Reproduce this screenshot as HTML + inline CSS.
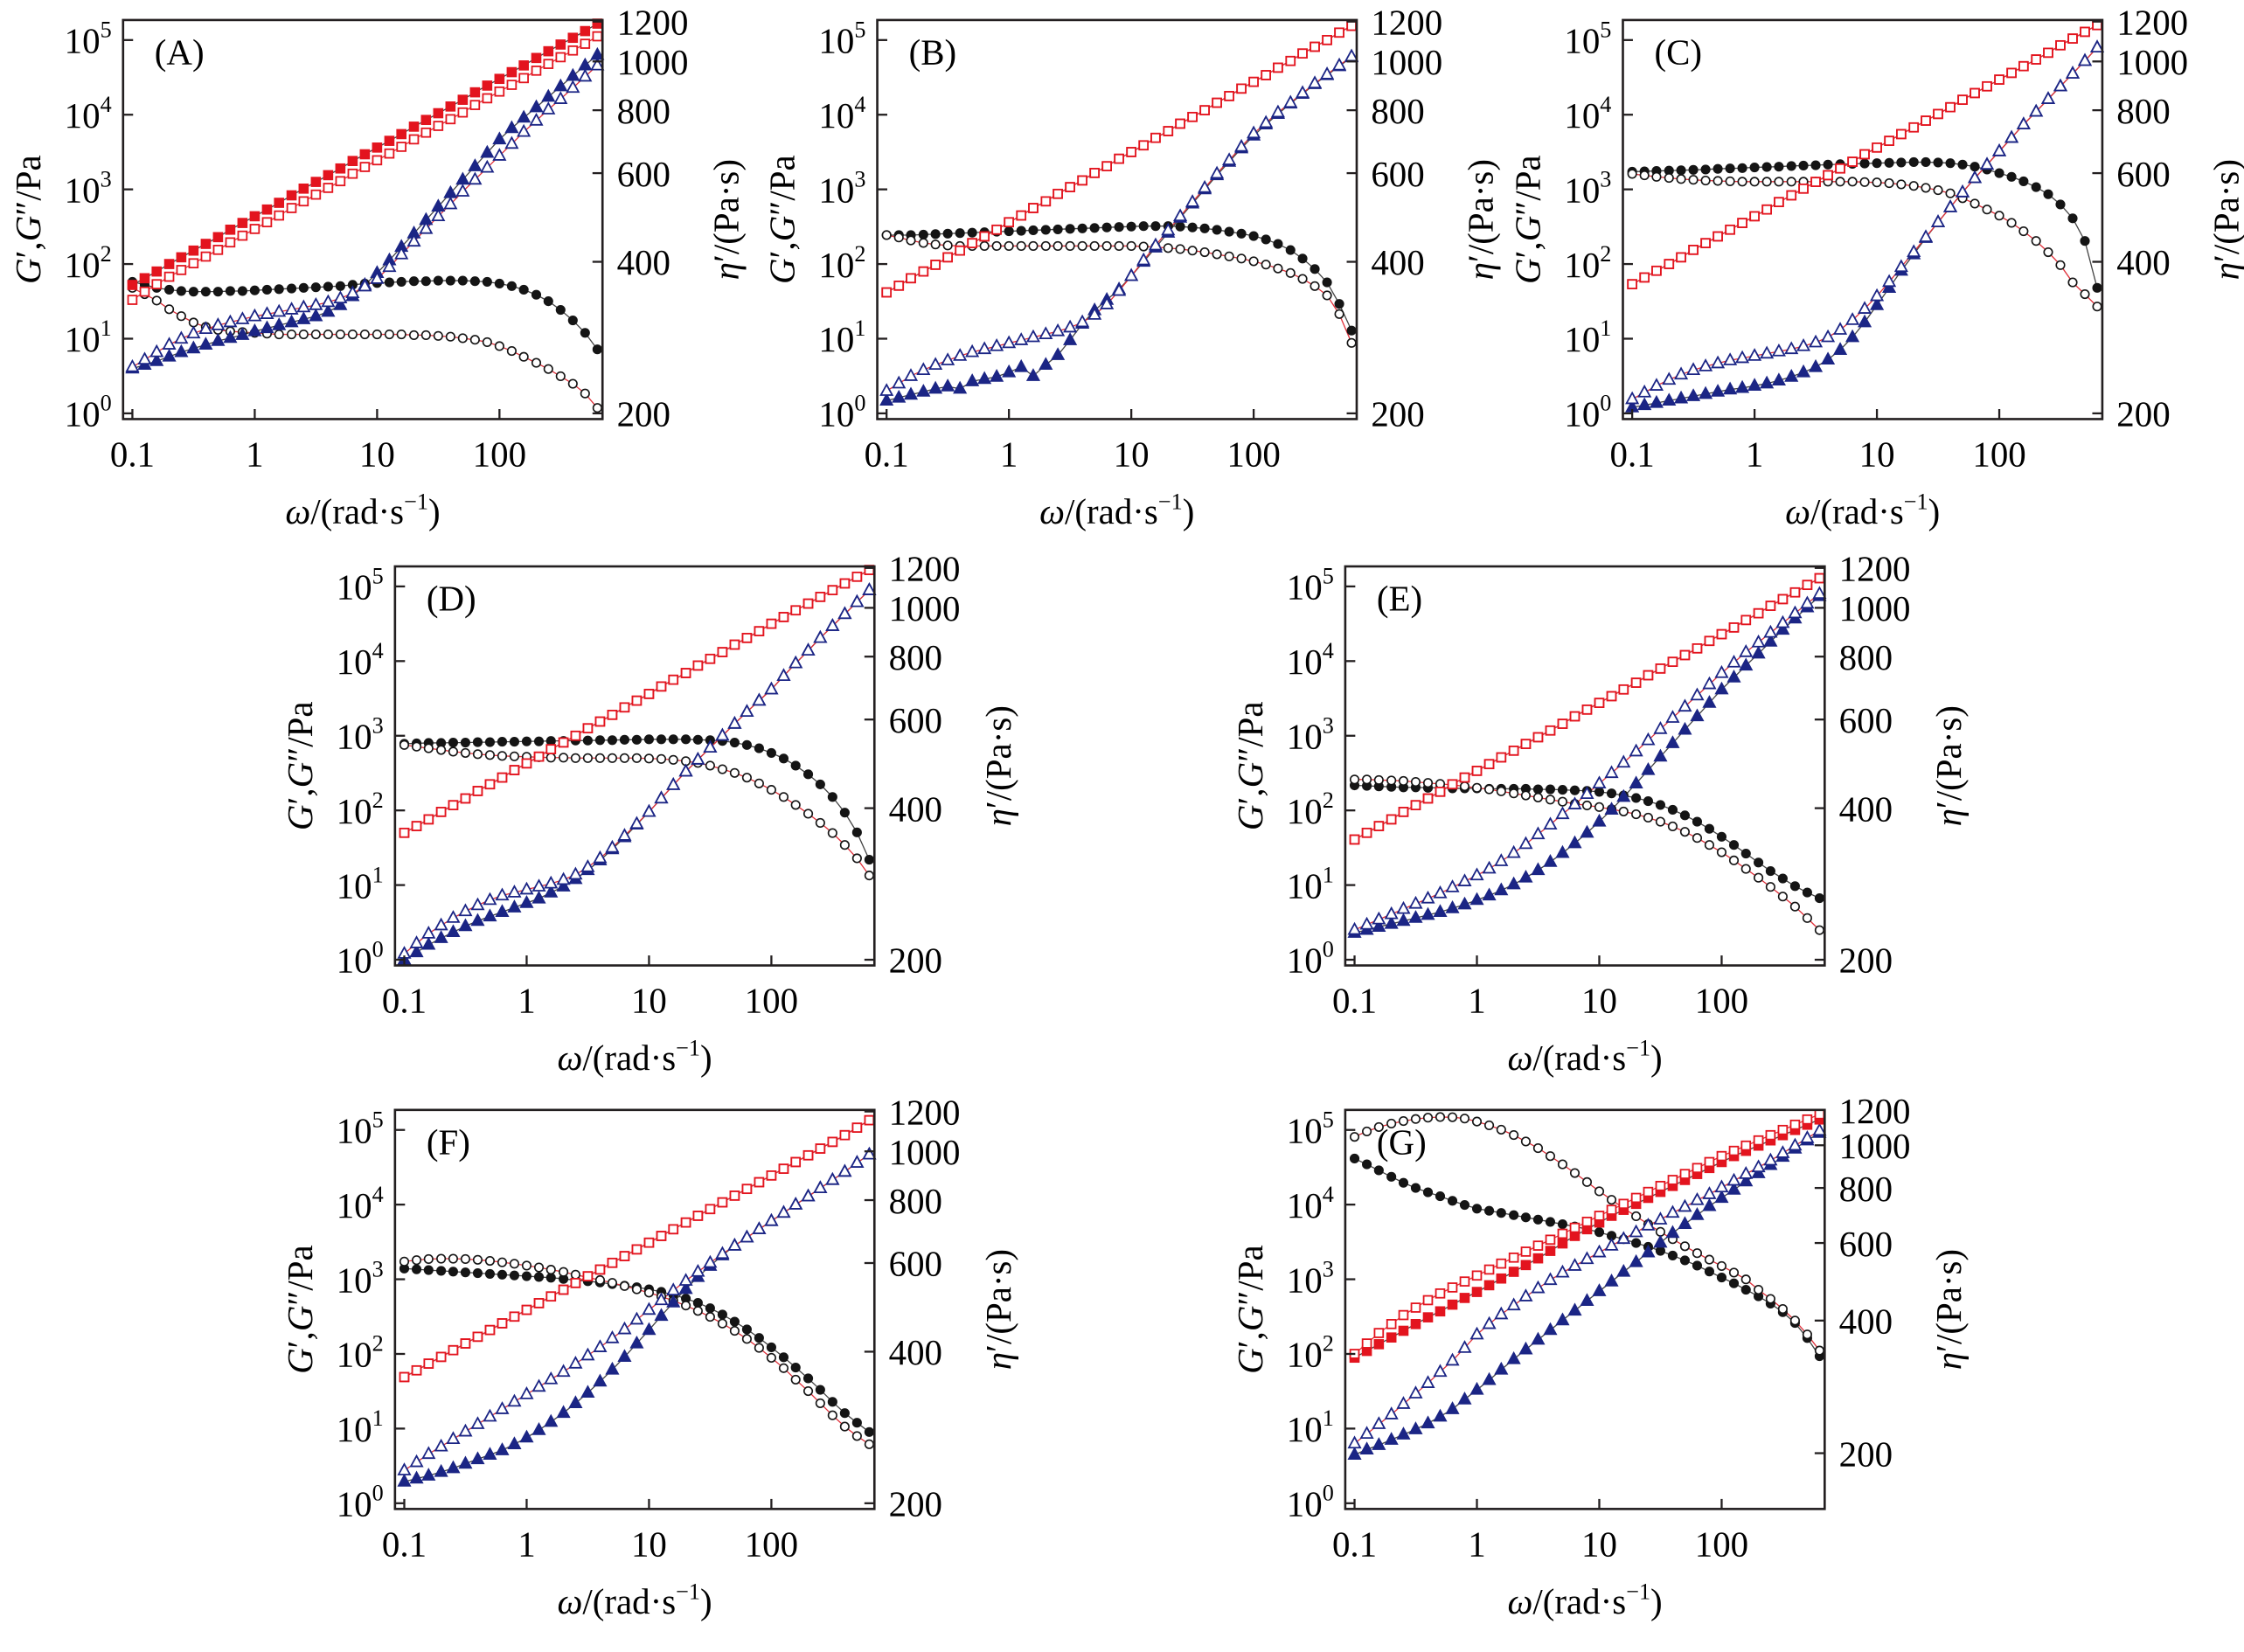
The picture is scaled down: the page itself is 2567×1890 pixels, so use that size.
<!DOCTYPE html>
<html><head><meta charset="utf-8"><title>Rheology panels</title>
<style>
html,body{margin:0;padding:0;background:#fff;}
svg{display:block;font-family:"Liberation Serif",serif;}
</style></head>
<body>
<svg id="fig" xmlns="http://www.w3.org/2000/svg" width="2567" height="1890" viewBox="0 0 1568 1155" preserveAspectRatio="none"></svg>
<script>
// ---- shared categories ----
const omega = [0.1,0.126,0.158,0.2,0.251,0.316,0.398,0.501,0.631,0.794,1,1.26,1.58,2,2.51,3.16,3.98,5.01,6.31,7.94,10,12.6,15.8,20,25.1,31.6,39.8,50.1,63.1,79.4,100,126,158,200,251,316,398,501,631];
const xTicks = [0.1,1,10,100];
const xTickLabels = ["0.1","1","10","100"];
const yTickExp = [0,1,2,3,4,5];
const etaTicks = [200,400,600,800,1000,1200];

// ---- Panel A (log10 G values, eta in Pa·s) ----
const A_sqFilled = [1.72,1.81,1.90,2.00,2.09,2.18,2.27,2.36,2.46,2.55,2.64,2.73,2.82,2.92,3.01,3.10,3.19,3.28,3.38,3.47,3.56,3.65,3.74,3.84,3.93,4.02,4.11,4.20,4.30,4.39,4.48,4.57,4.66,4.76,4.85,4.94,5.03,5.12,5.22];
const A_sqOpen = [1.52,1.63,1.73,1.83,1.92,2.01,2.10,2.19,2.29,2.38,2.47,2.56,2.65,2.75,2.84,2.93,3.02,3.11,3.21,3.30,3.39,3.48,3.57,3.67,3.76,3.85,3.94,4.03,4.13,4.22,4.31,4.40,4.49,4.59,4.68,4.77,4.86,4.95,5.05];
const A_triFilled = [.60,.65,.70,.76,.82,.87,.92,.97,1.01,1.05,1.10,1.14,1.18,1.22,1.26,1.30,1.36,1.45,1.57,1.72,1.88,2.05,2.23,2.41,2.59,2.77,2.95,3.13,3.31,3.49,3.67,3.82,3.96,4.10,4.24,4.38,4.52,4.66,4.80];
const A_triOpen = [.62,.72,.82,.92,1.00,1.07,1.13,1.18,1.22,1.26,1.30,1.33,1.36,1.39,1.42,1.45,1.49,1.54,1.61,1.70,1.80,1.96,2.13,2.30,2.47,2.64,2.80,2.97,3.13,3.29,3.45,3.61,3.77,3.92,4.07,4.21,4.36,4.51,4.66];
const A_circFilled = [365,360,355,352,350,349,349,349,350,350,351,352,353,354,355,356,357,358,360,362,363,364,365,366,366,367,367,367,366,365,362,358,352,344,334,321,306,289,268];
const A_circOpen = [355,345,335,322,312,303,297,293,291,290,289,288,287,287,287,287,287,287,287,287,287,287,287,286,286,285,284,282,280,277,272,266,259,252,245,237,229,219,205];

// ---- Panel B ----
const B_sqFilled = [1.62,1.71,1.81,1.90,1.99,2.09,2.18,2.28,2.37,2.46,2.56,2.65,2.75,2.84,2.94,3.03,3.12,3.22,3.31,3.41,3.50,3.59,3.69,3.78,3.88,3.97,4.06,4.16,4.25,4.35,4.44,4.53,4.63,4.72,4.82,4.91,5.00,5.10,5.19];
const B_sqOpen = [1.62,1.71,1.81,1.90,1.99,2.09,2.18,2.28,2.37,2.46,2.56,2.65,2.75,2.84,2.94,3.03,3.12,3.22,3.31,3.41,3.50,3.59,3.69,3.78,3.88,3.97,4.06,4.16,4.25,4.35,4.44,4.53,4.63,4.72,4.82,4.91,5.00,5.10,5.19];
const B_triFilled = [.17,.21,.25,.29,.33,.36,.33,.43,.46,.49,.55,.62,.50,.65,.78,.98,1.20,1.38,1.52,1.66,1.84,2.03,2.22,2.42,2.62,2.81,3.00,3.19,3.37,3.55,3.72,3.87,4.01,4.15,4.28,4.41,4.53,4.65,4.77];
const B_triOpen = [.30,.40,.50,.58,.65,.71,.77,.82,.86,.90,.94,.98,1.02,1.06,1.10,1.15,1.22,1.32,1.46,1.64,1.84,2.05,2.25,2.45,2.64,2.83,3.02,3.21,3.39,3.57,3.75,3.89,4.03,4.16,4.29,4.42,4.54,4.66,4.78];
const B_circFilled = [452,452,452,453,454,455,456,457,458,459,460,461,462,463,464,465,466,467,468,469,470,471,471,471,470,468,466,463,459,455,450,443,434,422,406,387,364,330,292];
const B_circOpen = [452,447,441,436,433,431,430,430,430,430,430,430,430,430,430,430,430,430,430,430,430,429,428,426,424,421,418,414,410,406,401,395,388,380,370,358,343,315,276];

// ---- Panel C ----
const C_sqFilled = [1.73,1.82,1.91,2.00,2.09,2.19,2.28,2.37,2.46,2.55,2.64,2.73,2.83,2.92,3.01,3.10,3.19,3.28,3.37,3.47,3.56,3.65,3.74,3.83,3.92,4.01,4.10,4.20,4.29,4.38,4.47,4.56,4.65,4.74,4.83,4.93,5.02,5.11,5.20];
const C_sqOpen = [1.73,1.82,1.91,2.00,2.09,2.19,2.28,2.37,2.46,2.55,2.64,2.73,2.83,2.92,3.01,3.10,3.19,3.28,3.37,3.47,3.56,3.65,3.74,3.83,3.92,4.01,4.10,4.20,4.29,4.38,4.47,4.56,4.65,4.74,4.83,4.93,5.02,5.11,5.20];
const C_triFilled = [.08,.11,.14,.17,.20,.23,.26,.29,.32,.34,.37,.40,.44,.49,.55,.62,.72,.85,1.02,1.22,1.45,1.68,1.91,2.13,2.35,2.56,2.76,2.96,3.15,3.33,3.51,3.69,3.87,4.04,4.21,4.38,4.55,4.72,4.90];
const C_triOpen = [.19,.28,.37,.45,.52,.58,.63,.67,.71,.74,.77,.80,.83,.86,.90,.95,1.02,1.12,1.25,1.40,1.57,1.76,1.96,2.16,2.36,2.56,2.76,2.96,3.15,3.33,3.51,3.69,3.87,4.04,4.21,4.38,4.55,4.72,4.90];
const C_circFilled = [604,605,606,607,608,609,610,612,613,614,616,617,618,620,621,622,624,625,626,627,628,629,630,631,631,630,628,624,618,610,600,590,578,563,545,520,488,440,355];
const C_circOpen = [598,594,590,587,584,582,580,579,578,577,577,577,577,577,577,577,577,577,577,576,575,573,570,566,561,555,547,535,522,508,494,478,460,440,418,394,364,345,326];

// ---- Panel D ----
const D_sqFilled = [1.70,1.79,1.88,1.98,2.07,2.16,2.26,2.35,2.44,2.54,2.63,2.72,2.82,2.91,3.00,3.10,3.19,3.28,3.38,3.47,3.56,3.66,3.75,3.84,3.94,4.03,4.12,4.22,4.31,4.40,4.50,4.59,4.68,4.77,4.86,4.95,5.04,5.13,5.22];
const D_sqOpen = [1.70,1.79,1.88,1.98,2.07,2.16,2.26,2.35,2.44,2.54,2.63,2.72,2.82,2.91,3.00,3.10,3.19,3.28,3.38,3.47,3.56,3.66,3.75,3.84,3.94,4.03,4.12,4.22,4.31,4.40,4.50,4.59,4.68,4.77,4.86,4.95,5.04,5.13,5.22];
const D_triFilled = [.00,.10,.20,.29,.37,.45,.52,.58,.64,.70,.76,.82,.90,.98,1.08,1.20,1.33,1.48,1.64,1.81,1.98,2.16,2.34,2.52,2.68,2.84,3.00,3.16,3.32,3.47,3.62,3.80,3.97,4.14,4.31,4.47,4.63,4.79,4.95];
const D_triOpen = [.08,.22,.35,.46,.56,.65,.73,.80,.86,.90,.94,.98,1.02,1.07,1.14,1.24,1.36,1.50,1.66,1.82,1.98,2.16,2.34,2.52,2.68,2.84,3.00,3.16,3.32,3.47,3.62,3.80,3.97,4.14,4.31,4.47,4.63,4.79,4.95];
const D_circFilled = [537,538,539,539,540,540,541,541,542,542,543,543,544,544,545,545,546,546,547,547,548,548,548,548,547,546,544,540,534,526,515,502,486,467,446,421,392,358,316];
const D_circOpen = [534,530,526,522,518,515,512,510,508,507,506,505,504,504,503,503,503,503,503,503,502,501,499,496,492,486,478,470,460,448,435,421,406,390,374,357,338,318,294];

// ---- Panel E ----
const E_sqFilled = [1.61,1.70,1.79,1.88,1.98,2.07,2.16,2.25,2.35,2.44,2.53,2.62,2.71,2.80,2.89,2.98,3.07,3.16,3.26,3.35,3.44,3.53,3.62,3.71,3.81,3.90,3.99,4.08,4.17,4.27,4.36,4.45,4.55,4.64,4.74,4.83,4.92,5.02,5.11];
const E_sqOpen = [1.61,1.70,1.79,1.88,1.98,2.07,2.16,2.25,2.35,2.44,2.53,2.62,2.71,2.80,2.89,2.98,3.07,3.16,3.26,3.35,3.44,3.53,3.62,3.71,3.81,3.90,3.99,4.08,4.17,4.27,4.36,4.45,4.55,4.64,4.74,4.83,4.92,5.02,5.11];
const E_triFilled = [.36,.40,.44,.48,.52,.56,.60,.64,.69,.74,.80,.86,.93,1.01,1.10,1.20,1.31,1.43,1.56,1.70,1.85,2.01,2.18,2.36,2.54,2.72,2.90,3.08,3.26,3.44,3.62,3.78,3.94,4.10,4.26,4.42,4.57,4.72,4.87];
const E_triOpen = [.40,.47,.54,.61,.68,.75,.82,.89,.97,1.05,1.13,1.22,1.32,1.43,1.55,1.68,1.81,1.95,2.08,2.22,2.36,2.50,2.64,2.79,2.94,3.09,3.24,3.39,3.54,3.69,3.84,3.98,4.12,4.25,4.38,4.51,4.64,4.77,4.90];
const E_circFilled = [444,443,442,441,440,440,439,439,438,438,438,437,437,437,437,436,436,435,434,433,431,428,424,419,413,406,397,387,376,364,351,338,325,312,300,290,280,272,265];
const E_circOpen = [456,456,455,454,453,451,449,447,445,442,439,436,432,428,424,420,416,412,408,405,402,398,394,389,383,376,368,359,349,338,327,315,303,291,279,267,255,242,229];

// ---- Panel F ----
const F_sqFilled = [1.69,1.78,1.87,1.96,2.05,2.14,2.23,2.32,2.41,2.50,2.59,2.68,2.77,2.86,2.95,3.04,3.13,3.22,3.31,3.40,3.49,3.58,3.67,3.76,3.85,3.94,4.03,4.12,4.21,4.30,4.39,4.48,4.57,4.66,4.75,4.84,4.93,5.03,5.13];
const F_sqOpen = [1.69,1.78,1.87,1.96,2.05,2.14,2.23,2.32,2.41,2.50,2.59,2.68,2.77,2.86,2.95,3.04,3.13,3.22,3.31,3.40,3.49,3.58,3.67,3.76,3.85,3.94,4.03,4.12,4.21,4.30,4.39,4.48,4.57,4.66,4.75,4.84,4.93,5.03,5.13];
const F_triFilled = [.29,.33,.37,.42,.47,.53,.59,.65,.71,.79,.88,.98,1.09,1.21,1.34,1.48,1.63,1.79,1.96,2.14,2.32,2.51,2.69,2.87,3.03,3.18,3.32,3.45,3.56,3.67,3.78,3.89,4.00,4.11,4.22,4.33,4.44,4.56,4.67];
const F_triOpen = [.44,.55,.66,.76,.86,.96,1.06,1.16,1.26,1.36,1.46,1.56,1.66,1.76,1.87,1.98,2.09,2.21,2.33,2.46,2.59,2.72,2.85,2.98,3.10,3.22,3.34,3.45,3.56,3.67,3.78,3.89,4.00,4.11,4.22,4.33,4.44,4.56,4.67];
const F_circFilled = [585,583,581,579,577,575,573,571,569,567,565,563,561,558,555,552,549,545,541,537,532,526,519,510,500,488,474,459,443,426,408,390,372,354,336,318,302,289,277];
const F_circOpen = [604,608,611,612,612,611,609,606,602,598,593,588,582,576,569,562,555,548,540,532,524,515,505,494,482,469,455,440,424,407,389,371,352,334,316,299,284,272,262];

// ---- Panel G ----
const G_sqFilled = [1.95,2.04,2.13,2.22,2.31,2.40,2.49,2.57,2.66,2.75,2.83,2.92,3.01,3.10,3.19,3.28,3.38,3.48,3.58,3.67,3.76,3.85,3.93,4.01,4.09,4.17,4.25,4.33,4.41,4.49,4.57,4.65,4.72,4.79,4.86,4.93,5.00,5.07,5.14];
const G_sqOpen = [2.00,2.14,2.28,2.40,2.52,2.62,2.72,2.81,2.89,2.97,3.05,3.13,3.21,3.29,3.37,3.45,3.53,3.61,3.69,3.77,3.85,3.93,4.01,4.09,4.17,4.25,4.33,4.41,4.49,4.57,4.65,4.72,4.79,4.86,4.93,5.00,5.07,5.14,5.21];
const G_triFilled = [.65,.72,.78,.85,.92,.99,1.07,1.16,1.26,1.39,1.52,1.65,1.79,1.93,2.06,2.19,2.32,2.45,2.58,2.71,2.84,2.97,3.10,3.23,3.36,3.49,3.62,3.74,3.86,3.98,4.09,4.20,4.31,4.42,4.53,4.64,4.75,4.86,4.96];
const G_triOpen = [.80,.93,1.06,1.19,1.33,1.47,1.61,1.76,1.91,2.08,2.26,2.40,2.53,2.65,2.77,2.88,2.99,3.09,3.18,3.27,3.36,3.45,3.54,3.63,3.72,3.80,3.89,3.97,4.06,4.14,4.23,4.32,4.41,4.50,4.59,4.69,4.79,4.89,4.99];
const G_circFilled = [933,905,877,848,822,800,782,766,748,732,718,710,702,694,686,678,670,662,654,645,635,623,612,600,588,576,562,548,533,517,501,486,470,454,437,418,395,365,332];
const G_circOpen = [1045,1075,1100,1120,1135,1147,1155,1159,1158,1150,1132,1110,1085,1055,1020,985,945,905,865,825,786,752,720,690,662,636,612,590,569,550,532,514,496,470,448,425,400,372,342];

const panels = [
  {id:"A", x:86,  y:14,  r0:275, k:352, sqF:A_sqFilled, sqO:A_sqOpen, trF:A_triFilled, trO:A_triOpen, ciF:A_circFilled, ciO:A_circOpen},
  {id:"B", x:613, y:14,  r0:275, k:352, sqF:B_sqFilled, sqO:B_sqOpen, trF:B_triFilled, trO:B_triOpen, ciF:B_circFilled, ciO:B_circOpen},
  {id:"C", x:1134,y:14,  r0:275, k:352, sqF:C_sqFilled, sqO:C_sqOpen, trF:C_triFilled, trO:C_triOpen, ciF:C_circFilled, ciO:C_circOpen},
  {id:"D", x:276, y:396, r0:275, k:352, sqF:D_sqFilled, sqO:D_sqOpen, trF:D_triFilled, trO:D_triOpen, ciF:D_circFilled, ciO:D_circOpen},
  {id:"E", x:940, y:396, r0:275, k:352, sqF:E_sqFilled, sqO:E_sqOpen, trF:E_triFilled, trO:E_triOpen, ciF:E_circFilled, ciO:E_circOpen},
  {id:"F", x:276, y:776, r0:275, k:352, sqF:F_sqFilled, sqO:F_sqOpen, trF:F_triFilled, trO:F_triOpen, ciF:F_circFilled, ciO:F_circOpen},
  {id:"G", x:940, y:776, r0:240, k:308, sqF:G_sqFilled, sqO:G_sqOpen, trF:G_triFilled, trO:G_triOpen, ciF:G_circFilled, ciO:G_circOpen}
];

const NS = "http://www.w3.org/2000/svg";
const svg = document.getElementById("fig");
const W = 335, H = 279, DEC_X = 85.5, DEC_Y = 52.2;
const RED = "#e3141e", NAVY = "#1b2585", BLK = "#151515";
const FS = 25;

function mk(tag, attrs, parent){
  const e = document.createElementNS(NS, tag);
  for (const k in attrs) e.setAttribute(k, attrs[k]);
  parent.appendChild(e);
  return e;
}

panels.forEach(p => {
  const g = mk("g", {}, svg);
  
  
  const xs = w => p.x + 6.5 + DEC_X * (Math.log10(w) + 1);
  const yl = lg => p.y + 275 - DEC_Y * lg;
  const yr = eta => p.y + p.r0 - p.k * Math.log10(eta / 200);

  const series = [
    {arr:p.ciF, fy:yr, shape:"circle", fill:BLK, stroke:BLK, line:"#444", name:"eta-filled-circles"},
    {arr:p.ciO, fy:yr, shape:"circle", fill:"#fff", stroke:BLK, line:"#e0303a", name:"eta-open-circles"},
    {arr:p.trF, fy:yl, shape:"tri", fill:NAVY, stroke:NAVY, line:"#444", name:"g-triangles-filled"},
    {arr:p.trO, fy:yl, shape:"tri", fill:"#fff", stroke:NAVY, line:"#e0303a", name:"g-triangles-open"},
    {arr:p.sqF, fy:yl, shape:"sq", fill:RED, stroke:RED, line:"#444", name:"g-squares-filled"},
    {arr:p.sqO, fy:yl, shape:"sq", fill:"#fff", stroke:RED, line:"#e0303a", name:"g-squares-open"}
  ];
  series.forEach(s => {
    const pts = s.arr.map((v,i) => xs(omega[i]).toFixed(1) + "," + s.fy(v).toFixed(1)).join(" ");
    const pl = mk("polyline", {points:pts, fill:"none", stroke:s.line, "stroke-width":0.8}, g);
    
    
  });
  series.forEach(s => {
    const sg = mk("g", {}, g);
    
    
    s.arr.forEach((v,i) => {
      const cx = xs(omega[i]), cy = s.fy(v);
      let m;
      if (s.shape === "circle") m = mk("circle", {cx:cx, cy:cy, r:2.9, fill:s.fill, stroke:s.stroke, "stroke-width":1}, sg);
      else if (s.shape === "sq") m = mk("rect", {x:cx-3, y:cy-3, width:6, height:6, fill:s.fill, stroke:s.stroke, "stroke-width":1.1}, sg);
      else m = mk("path", {d:`M${cx},${cy-4.4}L${cx+4},${cy+2.9}L${cx-4},${cy+2.9}Z`, fill:s.fill, stroke:s.stroke, "stroke-width":1.1}, sg);
      
      
    });
  });

  const fr = mk("rect", {x:p.x, y:p.y, width:W, height:H, fill:"none", stroke:"#231f20", "stroke-width":1.6}, g);
  
  

  xTicks.forEach((t,i) => {
    const x = xs(t);
    const tk = mk("line", {x1:x, x2:x, y1:p.y+H, y2:p.y+H-7, stroke:"#231f20", "stroke-width":1.4}, g);
    
    
    const tl = mk("text", {x:x, y:p.y+H+33, "text-anchor":"middle", "font-size":FS}, g);
    tl.textContent = xTickLabels[i];
    
    
  });
  yTickExp.forEach(e => {
    const y = yl(e);
    const tk = mk("line", {x1:p.x, x2:p.x+7, y1:y, y2:y, stroke:"#231f20", "stroke-width":1.4}, g);
    
    
    const tl = mk("text", {x:p.x-8, y:y+9, "text-anchor":"end", "font-size":FS}, g);
    tl.innerHTML = '10<tspan dy="-11" font-size="16">' + e + '</tspan>';
    
    
  });
  etaTicks.forEach(v => {
    const y = yr(v);
    if (y > p.y + 1) {
      const tk = mk("line", {x1:p.x+W, x2:p.x+W-7, y1:y, y2:y, stroke:"#231f20", "stroke-width":1.4}, g);
      
      
    }
    const tl = mk("text", {x:p.x+W+10, y:y+9, "font-size":FS}, g);
    tl.textContent = String(v);
    
    
  });
  const pl = mk("text", {x:p.x+22, y:p.y+31, "font-size":FS}, g);
  pl.textContent = "(" + p.id + ")";
  
  

  const xt = mk("text", {x:p.x+W/2, y:p.y+H+73, "text-anchor":"middle", "font-size":FS}, g);
  xt.innerHTML = '<tspan font-style="italic">ω</tspan>/(rad·s<tspan dy="-10" font-size="16">−1</tspan><tspan dy="10">)</tspan>';
  
  
  const ly = p.y + H/2;
  const lt = mk("text", {x:p.x-58, y:ly, transform:`rotate(-90 ${p.x-58} ${ly})`, "text-anchor":"middle", "font-size":FS}, g);
  lt.innerHTML = '<tspan font-style="italic">G</tspan>′,<tspan font-style="italic">G</tspan>″/Pa';
  
  
  const rx = p.x + W + 95;
  const rt = mk("text", {x:rx, y:ly, transform:`rotate(-90 ${rx} ${ly})`, "text-anchor":"middle", "font-size":FS}, g);
  rt.innerHTML = '<tspan font-style="italic">η</tspan>′/(Pa·s)';
  
  
});
</script>
</body></html>
